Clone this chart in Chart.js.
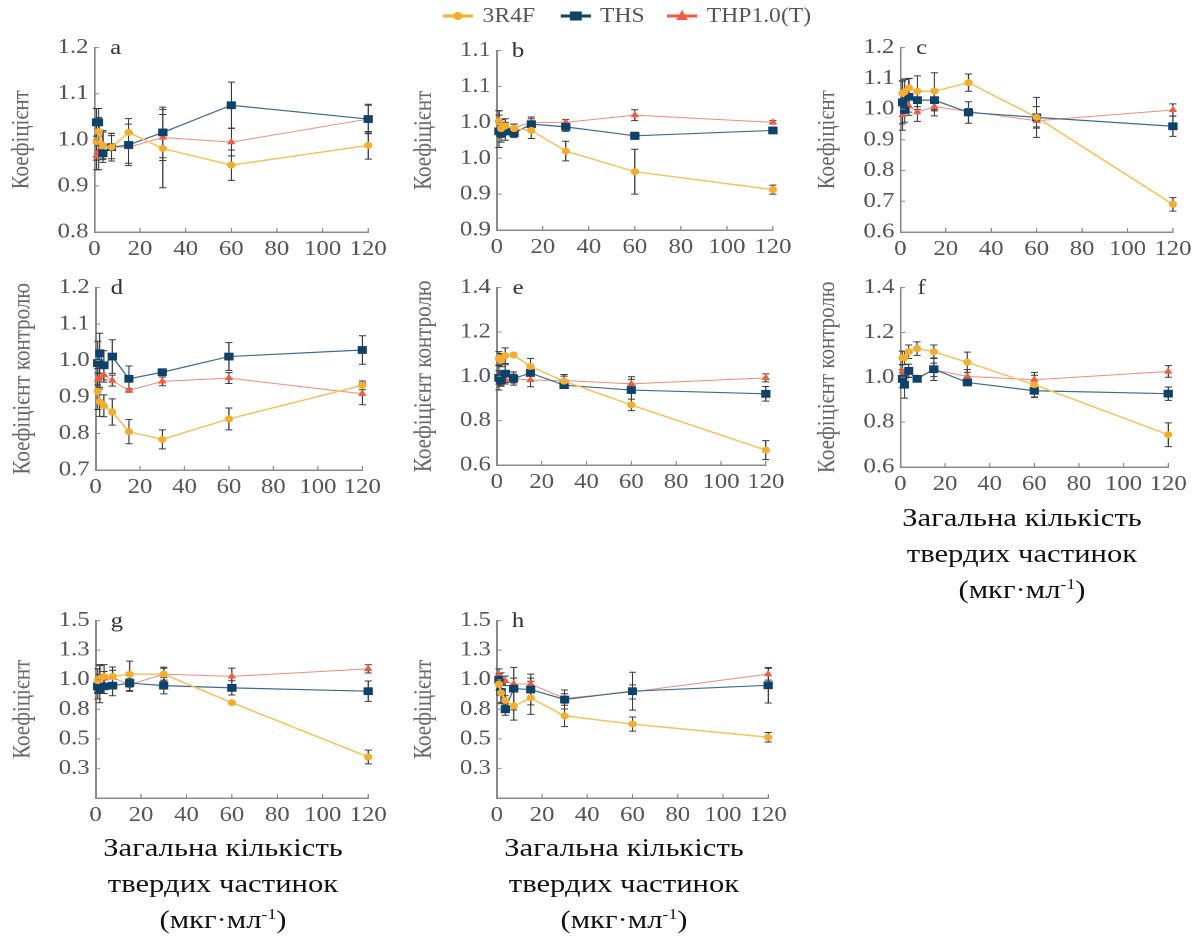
<!DOCTYPE html>
<html>
<head>
<meta charset="utf-8">
<script src="https://cdn.jsdelivr.net/npm/chart.js@4.4.1/dist/chart.umd.min.js"></script>
<style>
    html, body { margin: 0; padding: 0; background: #fff; }
    body { width: 1201px; height: 940px; overflow: hidden; position: relative; }
    /* the source figure is stretched sideways, so the whole page is too */
    #fig {
        position: absolute; left: 0; top: 0;
        width: 1018px; height: 940px;
        transform: scaleX(1.18); transform-origin: 0 0;
        font-family: 'Liberation Serif', 'Times New Roman', serif;
    }
    #fig canvas { position: absolute; }
    .legend-item {
        position: absolute; top: 4px; display: flex; align-items: center;
        font-size: 20px; color: #555; white-space: nowrap;
    }
    .legend-item svg { margin-right: 8px; }
    .xtitle {
        position: absolute; width: 300px; text-align: center;
        font-size: 26px; line-height: 36px; color: #111;
    }
    .xtitle sup { font-size: 15px; line-height: 0; vertical-align: 9px; }
</style>
</head>
<body>
<div id="fig"></div>

<script>
// Doses (total particulate matter, ug/ml)
const xDoses = [0.9375, 1.875, 3.75, 7.5, 15, 30, 60, 120];
const xTicks = [0, 20, 40, 60, 80, 100, 120];

const seriesNames = ['3R4F', 'THS', 'THP1.0(T)'];

// Panel a
const a3R4F = [0.996, 1.018, 0.987, 0.984, 1.016, 0.981, 0.945, 0.988];
const aTHS = [1.038, 1.038, 0.971, 0.984, 0.989, 1.016, 1.075, 1.045];
const aTHP = [0.965, 0.975, 0.990, 0.984, 0.984, 1.005, 0.995, 1.045];
const a3R4FErr = [0.04, 0.03, 0.03, 0.025, 0.03, 0.085, 0.033, 0.03];
const aTHSErr = [0.03, 0.03, 0.02, 0.03, 0.045, 0.055, 0.05, 0.032];
const aTHPErr = [0.03, 0.04, 0.03, 0.03, 0.035, 0.05, 0.03, 0.03];

// Panel b
const b3R4F = [1.021, 1.013, 1.016, 1.013, 1.011, 0.988, 0.965, 0.945];
const bTHS = [1.010, 1.008, 1.010, 1.008, 1.018, 1.015, 1.005, 1.011];
const bTHP = [1.023, 1.015, 1.012, 1.014, 1.020, 1.020, 1.028, 1.020];
const b3R4FErr = [0.012, 0.01, 0.008, 0.005, 0.009, 0.011, 0.025, 0.005];
const bTHSErr = [0.018, 0.01, 0.01, 0.005, 0.008, 0.005, 0.004, 0.003];
const bTHPErr = [0.01, 0.008, 0.006, 0.004, 0.004, 0.003, 0.006, 0.002];

// Panel c
const c3R4F = [1.051, 1.056, 1.069, 1.058, 1.058, 1.086, 0.973, 0.690];
const cTHS = [1.022, 0.997, 1.040, 1.029, 1.029, 0.989, 0.973, 0.944];
const cTHP = [0.981, 1.019, 1.010, 0.990, 1.008, 0.992, 0.962, 0.997];
const c3R4FErr = [0.04, 0.04, 0.03, 0.05, 0.06, 0.028, 0.035, 0.022];
const cTHSErr = [0.07, 0.04, 0.06, 0.03, 0.035, 0.035, 0.065, 0.033];
const cTHPErr = [0.05, 0.03, 0.02, 0.03, 0.03, 0.01, 0.02, 0.02];

// Panel d
const d3R4F = [0.916, 0.887, 0.876, 0.859, 0.805, 0.784, 0.840, 0.932];
const dTHS = [0.993, 1.020, 0.987, 1.011, 0.950, 0.968, 1.011, 1.029];
const dTHP = [0.948, 0.952, 0.961, 0.945, 0.918, 0.943, 0.952, 0.909];
const d3R4FErr = [0.05, 0.04, 0.03, 0.036, 0.033, 0.026, 0.03, 0.012];
const dTHSErr = [0.06, 0.055, 0.04, 0.046, 0.035, 0.008, 0.038, 0.039];
const dTHPErr = [0.03, 0.03, 0.02, 0.015, 0.005, 0.012, 0.015, 0.03];

// Panel e
const e3R4F = [1.081, 1.073, 1.093, 1.096, 1.044, 0.978, 0.871, 0.667];
const eTHS = [0.993, 0.985, 1.012, 0.990, 1.015, 0.960, 0.938, 0.921];
const eTHP = [0.995, 0.990, 0.985, 0.990, 0.983, 0.981, 0.966, 0.993];
const e3R4FErr = [0.03, 0.03, 0.035, 0.005, 0.037, 0.03, 0.026, 0.043];
const eTHSErr = [0.055, 0.03, 0.04, 0.03, 0.037, 0.01, 0.06, 0.033];
const eTHPErr = [0.03, 0.03, 0.02, 0.02, 0.03, 0.02, 0.02, 0.018];

// Panel f
const f3R4F = [1.087, 1.087, 1.114, 1.128, 1.114, 1.067, 0.967, 0.744];
const fTHS = [0.993, 0.967, 1.029, 0.993, 1.036, 0.977, 0.940, 0.927];
const fTHP = [1.026, 1.000, 1.020, 0.996, 1.033, 1.004, 0.989, 1.026];
const f3R4FErr = [0.03, 0.03, 0.03, 0.03, 0.03, 0.045, 0.055, 0.053];
const fTHSErr = [0.04, 0.06, 0.03, 0.01, 0.05, 0.01, 0.03, 0.03];
const fTHPErr = [0.03, 0.03, 0.02, 0.01, 0.03, 0.03, 0.02, 0.026];

// Panel g
const g3R4F = [0.992, 1.008, 1.028, 1.028, 1.047, 1.047, 0.806, 0.347];
const gTHS = [0.944, 0.925, 0.944, 0.950, 0.972, 0.950, 0.931, 0.903];
const gTHP = [0.917, 1.019, 1.010, 1.019, 0.958, 1.047, 1.028, 1.092];
const g3R4FErr = [0.1, 0.12, 0.1, 0.08, 0.11, 0.06, 0.01, 0.058];
const gTHSErr = [0.06, 0.12, 0.06, 0.085, 0.07, 0.07, 0.06, 0.086];
const gTHPErr = [0.08, 0.1, 0.06, 0.06, 0.05, 0.05, 0.07, 0.035];

// Panel h
const h3R4F = [0.964, 0.889, 0.825, 0.778, 0.847, 0.694, 0.625, 0.514];
const hTHS = [1.000, 0.897, 0.750, 0.925, 0.917, 0.833, 0.903, 0.953];
const hTHP = [1.042, 1.008, 0.990, 0.964, 0.964, 0.842, 0.897, 1.047];
const h3R4FErr = [0.05, 0.08, 0.04, 0.12, 0.14, 0.09, 0.06, 0.04];
const hTHSErr = [0.05, 0.1, 0.05, 0.18, 0.13, 0.08, 0.16, 0.15];
const hTHPErr = [0.05, 0.05, 0.04, 0.05, 0.05, 0.04, 0.06, 0.05];

// Y ticks and their printed labels
const yTicksA = [0.8, 0.9, 1.0, 1.1, 1.2];
const yLabelsA = ['0.8', '0.9', '1.0', '1.1', '1.2'];
const yTicksB = [0.90, 0.94, 0.98, 1.02, 1.06, 1.10];
const yLabelsB = ['0.9', '0.9', '1.0', '1.0', '1.1', '1.1'];
const yTicksC = [0.6, 0.7, 0.8, 0.9, 1.0, 1.1, 1.2];
const yLabelsC = ['0.6', '0.7', '0.8', '0.9', '1.0', '1.1', '1.2'];
const yTicksD = [0.7, 0.8, 0.9, 1.0, 1.1, 1.2];
const yLabelsD = ['0.7', '0.8', '0.9', '1.0', '1.1', '1.2'];
const yTicksEF = [0.6, 0.8, 1.0, 1.2, 1.4];
const yLabelsEF = ['0.6', '0.8', '1.0', '1.2', '1.4'];
const yTicksGH = [0, 0.25, 0.5, 0.75, 1.0, 1.25, 1.5];
const yLabelsGH = ['', '0.3', '0.5', '0.8', '1.0', '1.3', '1.5'];

const titleShort = 'Коефіцієнт';
const titleLong = 'Коефіцієнт контролю';

// ---- styling ----
const stretch = 1.18;
const fontFamily = "'Liberation Serif', 'Times New Roman', serif";
const axisColor = '#8a8a8a';
const seriesStyles = [
    { line: '#f8c25c', point: '#f5ad2b', lineWidth: 1.5, pointStyle: 'circle', radius: 3.5 },
    { line: '#3d6b8f', point: '#0d436b', lineWidth: 1.2, pointStyle: 'rect', radius: 5.5 },
    { line: '#f28b7b', point: '#f05b41', lineWidth: 1, pointStyle: 'triangle', radius: 4.2 }
];

// canvas margins around the plot area (container px)
const padLeft = 76, padRight = 22, padTop = 15, padBottom = 32;

// plot area of every panel in page pixels
const panels = [
    { letter: 'a', box: [94, 45, 368, 232], series: [a3R4F, aTHS, aTHP], errors: [a3R4FErr, aTHSErr, aTHPErr], yTicks: yTicksA, yLabels: yLabelsA, title: titleShort },
    { letter: 'b', box: [497, 48, 773, 230], series: [b3R4F, bTHS, bTHP], errors: [b3R4FErr, bTHSErr, bTHPErr], yTicks: yTicksB, yLabels: yLabelsB, title: titleShort },
    { letter: 'c', box: [900, 45, 1172, 232], series: [c3R4F, cTHS, cTHP], errors: [c3R4FErr, cTHSErr, cTHPErr], yTicks: yTicksC, yLabels: yLabelsC, title: titleShort },
    { letter: 'd', box: [96, 285, 363, 470], series: [d3R4F, dTHS, dTHP], errors: [d3R4FErr, dTHSErr, dTHPErr], yTicks: yTicksD, yLabels: yLabelsD, title: titleLong },
    { letter: 'e', box: [497, 285, 766, 465], series: [e3R4F, eTHS, eTHP], errors: [e3R4FErr, eTHSErr, eTHPErr], yTicks: yTicksEF, yLabels: yLabelsEF, title: titleLong },
    { letter: 'f', box: [900, 285, 1168, 467], series: [f3R4F, fTHS, fTHP], errors: [f3R4FErr, fTHSErr, fTHPErr], yTicks: yTicksEF, yLabels: yLabelsEF, title: titleLong },
    { letter: 'g', box: [95, 618, 367, 798], series: [g3R4F, gTHS, gTHP], errors: [g3R4FErr, gTHSErr, gTHPErr], yTicks: yTicksGH, yLabels: yLabelsGH, title: titleShort },
    { letter: 'h', box: [497, 618, 768, 798], series: [h3R4F, hTHS, hTHP], errors: [h3R4FErr, hTHSErr, hTHPErr], yTicks: yTicksGH, yLabels: yLabelsGH, title: titleShort }
];

// Error bars, drawn under the markers
const errorBars = {
    id: 'errorBars',
    beforeDatasetsDraw(chart) {
        const { ctx, scales: { y } } = chart;
        ctx.save();
        ctx.strokeStyle = '#3a3a3a';
        ctx.lineWidth = 1;
        chart.data.datasets.forEach((ds, i) => {
            chart.getDatasetMeta(i).data.forEach((pt, j) => {
                const v = ds.data[j].y;
                const err = ds.errors[j];
                const yTop = y.getPixelForValue(v + err);
                const yBot = y.getPixelForValue(v - err);
                ctx.beginPath();
                ctx.moveTo(pt.x, yTop); ctx.lineTo(pt.x, yBot);
                ctx.moveTo(pt.x - 3, yTop); ctx.lineTo(pt.x + 3, yTop);
                ctx.moveTo(pt.x - 3, yBot); ctx.lineTo(pt.x + 3, yBot);
                ctx.stroke();
            });
        });
        ctx.restore();
    }
};

// Inward tick marks and the panel letter
const panelDecor = {
    id: 'panelDecor',
    afterDraw(chart, args, opts) {
        const { ctx, chartArea, scales: { x, y } } = chart;
        ctx.save();
        ctx.strokeStyle = axisColor;
        ctx.lineWidth = 1;
        ctx.beginPath();
        x.ticks.forEach(t => {
            const px = x.getPixelForValue(t.value);
            ctx.moveTo(px, chartArea.bottom);
            ctx.lineTo(px, chartArea.bottom - 4);
        });
        y.ticks.forEach(t => {
            const py = y.getPixelForValue(t.value);
            ctx.moveTo(chartArea.left, py);
            ctx.lineTo(chartArea.left + 4, py);
        });
        ctx.stroke();
        ctx.fillStyle = '#333';
        ctx.font = '21px ' + fontFamily;
        ctx.textAlign = 'center';
        ctx.textBaseline = 'middle';
        ctx.fillText(opts.letter, chartArea.left + 18, chartArea.top + 1);
        ctx.restore();
    }
};

function makePanel(p) {
    const [left, top, right, bottom] = p.box;
    const plotW = Math.round((right - left) / stretch);
    const canvas = document.createElement('canvas');
    canvas.width = plotW + padLeft + padRight;
    canvas.height = bottom - top + padTop + padBottom;
    canvas.style.left = (Math.round(left / stretch) - padLeft) + 'px';
    canvas.style.top = (top - padTop) + 'px';
    document.getElementById('fig').appendChild(canvas);

    const datasets = p.series.map((vals, i) => {
        const s = seriesStyles[i];
        return {
            label: seriesNames[i],
            data: xDoses.map((x, j) => ({ x: x, y: vals[j] })),
            errors: p.errors[i],
            borderColor: s.line,
            borderWidth: s.lineWidth,
            pointStyle: s.pointStyle,
            pointRadius: s.radius,
            pointBackgroundColor: s.point,
            pointBorderColor: s.point,
            pointBorderWidth: 0,
            tension: 0,
            clip: false
        };
    });

    return new Chart(canvas.getContext('2d'), {
        type: 'line',
        data: { datasets: datasets },
        plugins: [errorBars, panelDecor],
        options: {
            responsive: false,
            animation: false,
            devicePixelRatio: 2,
            layout: { padding: { left: 0, top: padTop, right: padRight, bottom: 0 } },
            plugins: {
                legend: { display: false },
                tooltip: { enabled: false },
                panelDecor: { letter: p.letter }
            },
            scales: {
                x: {
                    type: 'linear',
                    min: 0,
                    max: 120,
                    afterBuildTicks: scale => { scale.ticks = xTicks.map(v => ({ value: v })); },
                    afterFit: scale => { scale.height = padBottom; },
                    grid: { display: false, drawTicks: false },
                    border: { display: true, color: axisColor, width: 1.5 },
                    ticks: { color: '#555', padding: 5, maxRotation: 0, font: { family: fontFamily, size: 21 } }
                },
                y: {
                    min: p.yTicks[0],
                    max: p.yTicks[p.yTicks.length - 1],
                    afterBuildTicks: scale => { scale.ticks = p.yTicks.map(v => ({ value: v })); },
                    afterFit: scale => { scale.width = padLeft; },
                    grid: { display: false, drawTicks: false },
                    border: { display: true, color: axisColor, width: 1.5 },
                    ticks: {
                        color: '#555',
                        padding: 5,
                        font: { family: fontFamily, size: 21 },
                        callback: (value, index) => p.yLabels[index]
                    },
                    title: {
                        display: true,
                        text: p.title,
                        color: '#666',
                        padding: { top: 2, bottom: 0 },
                        font: { family: fontFamily, size: 21 }
                    }
                }
            }
        }
    });
}

// Shared legend at the top
function legendIcon(s) {
    let marker = '';
    if (s.pointStyle === 'circle') {
        marker = `<circle cx="13" cy="8" r="4" fill="${s.point}"/>`;
    } else if (s.pointStyle === 'rect') {
        marker = `<rect x="8" y="3.5" width="10" height="9" fill="${s.point}"/>`;
    } else {
        marker = `<polygon points="13,2 18,12 8,12" fill="${s.point}"/>`;
    }
    return `<svg width="26" height="16"><line x1="0" y1="8" x2="26" y2="8" stroke="${s.point}" stroke-width="3"/>${marker}</svg>`;
}

function makeLegend() {
    const lefts = [375, 474.5, 565];
    const fig = document.getElementById('fig');
    seriesNames.forEach((name, i) => {
        const item = document.createElement('div');
        item.className = 'legend-item';
        item.style.left = lefts[i] + 'px';
        item.innerHTML = legendIcon(seriesStyles[i]) + '<span>' + name + '</span>';
        fig.appendChild(item);
    });
}

// Big x-axis titles under f, g and h
function makeXTitle(centerX, top) {
    const div = document.createElement('div');
    div.className = 'xtitle';
    div.style.left = (centerX / stretch - 150) + 'px';
    div.style.top = top + 'px';
    div.innerHTML = 'Загальна кількість<br>твердих частинок<br>(мкг·мл<sup>-1</sup>)';
    document.getElementById('fig').appendChild(div);
}

document.addEventListener('DOMContentLoaded', function () {
    makeLegend();
    panels.forEach(makePanel);
    makeXTitle(1022, 500);
    makeXTitle(223, 830);
    makeXTitle(624, 830);
});
</script>
</body>
</html>
